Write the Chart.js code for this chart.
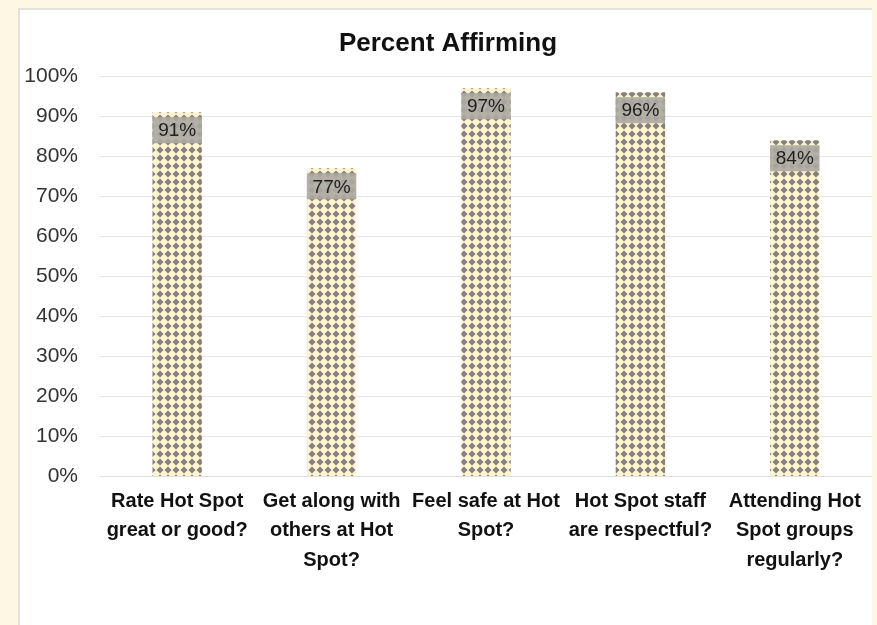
<!DOCTYPE html>
<html>
<head>
<meta charset="utf-8">
<script src="https://cdn.jsdelivr.net/npm/chart.js@4"></script>
<style>
  html, body { margin:0; padding:0; background:#fdf8e4; }
  #box { position:absolute; left:18px; top:8px; width:854px; height:617px; background:#fff; border-left:2px solid #e4e2dc; border-top:2px solid #e4e2dc; box-sizing:border-box; }
  canvas { display:block; }
</style>
</head>
<body>
<div id="box"><canvas id="c" width="852" height="615"></canvas></div>
<script>
// Percent affirming - hot spot survey
const categories = [
  ['Rate Hot Spot', 'great or good?'],
  ['Get along with', 'others at Hot', 'Spot?'],
  ['Feel safe at Hot', 'Spot?'],
  ['Hot Spot staff', 'are respectful?'],
  ['Attending Hot', 'Spot groups', 'regularly?']
];
const percents = [91, 77, 97, 96, 84];
const yTicks = [0, 10, 20, 30, 40, 50, 60, 70, 80, 90, 100];

const FONT = '"Liberation Sans", Arial, sans-serif';

function dotPattern() {
  const p = document.createElement('canvas');
  p.width = 8; p.height = 8;
  const g = p.getContext('2d');
  g.fillStyle = '#fbf4cf';
  g.fillRect(0, 0, 8, 8);
  g.fillStyle = '#84807b';
  g.beginPath();
  g.moveTo(4, 0.5); g.lineTo(7.5, 4); g.lineTo(4, 7.5); g.lineTo(0.5, 4);
  g.closePath();
  g.fill();
  return g.createPattern(p, 'repeat');
}

// grey box + value near the top of each bar
const valueLabels = {
  id: 'valueLabels',
  afterDatasetsDraw(chart) {
    const ctx = chart.ctx;
    const meta = chart.getDatasetMeta(0);
    ctx.save();
    meta.data.forEach((bar, i) => {
      const w = bar.width;
      ctx.fillStyle = 'rgba(172,168,162,0.9)';
      ctx.fillRect(bar.x - w / 2, bar.y + 5, w, 26);
      ctx.fillStyle = '#1e1e1e';
      ctx.font = '19px ' + FONT;
      ctx.textAlign = 'center';
      ctx.textBaseline = 'middle';
      ctx.fillText(percents[i] + '%', bar.x, bar.y + 19);
    });
    ctx.restore();
  }
};

new Chart(document.getElementById('c'), {
  type: 'bar',
  data: {
    labels: categories,
    datasets: [{
      data: percents,
      backgroundColor: dotPattern(),
      borderWidth: 0,
      categoryPercentage: 1,
      barPercentage: 0.32
    }]
  },
  options: {
    responsive: false,
    animation: false,
    layout: { padding: { left: 4, right: 0, top: 8, bottom: 48 } },
    plugins: {
      legend: { display: false },
      tooltip: { enabled: false },
      title: {
        display: true,
        text: 'Percent Affirming',
        color: '#111',
        font: { family: FONT, size: 26, weight: 'bold' },
        padding: { top: 10, bottom: 17 }
      }
    },
    scales: {
      y: {
        min: 0, max: 100,
        afterBuildTicks(axis) { axis.ticks = yTicks.map(v => ({ value: v })); },
        afterFit(scale) { scale.width = 76; },
        ticks: {
          callback: v => v + '%',
          color: '#333',
          padding: 22,
          font: { family: FONT, size: 21 }
        },
        grid: { color: '#e6e6e6', drawTicks: false },
        border: { display: false }
      },
      x: {
        afterFit(scale) { scale.paddingLeft = 0; scale.paddingRight = 0; },
        grid: { display: false },
        border: { color: '#e0e0e0' },
        ticks: {
          color: '#111',
          padding: 2,
          autoSkip: false,
          maxRotation: 0,
          font: { family: FONT, size: 20, weight: 'bold', lineHeight: 1.475 }
        }
      }
    }
  },
  plugins: [valueLabels]
});
</script>
</body>
</html>
